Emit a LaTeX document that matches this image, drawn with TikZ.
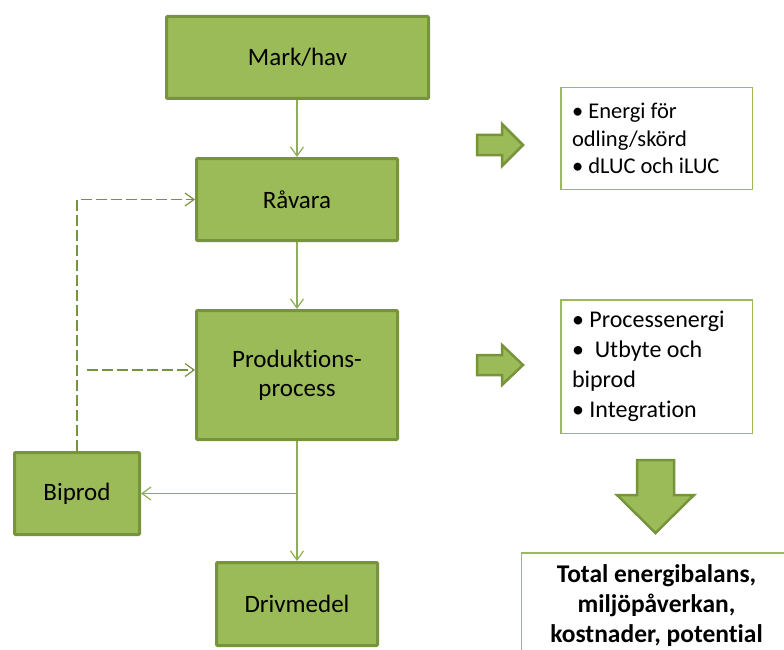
\documentclass[tikz,border=0pt]{standalone}
\usepackage{fontspec}
\setmainfont{Carlito}[Ligatures=NoCommon]
\usetikzlibrary{arrows.meta,calc}
\definecolor{gfill}{HTML}{9BBB59}
\definecolor{gline}{HTML}{77933C}
\definecolor{gconn}{HTML}{8FAF55}
\begin{document}
\begin{tikzpicture}[x=1pt,y=-1pt,
  gbox/.style={draw=gline, fill=gfill, line width=3pt, rounded corners=1pt, inner sep=0pt,
    align=center, font=\fontsize{25}{29}\selectfont},
  tbox/.style={draw=gfill, line width=1.5pt, fill=white, inner ysep=0pt},
  conn/.style={draw=gconn, line width=1.2pt, -{Straight Barb[length=9pt,width=13pt]}},
  dconn/.style={draw=gline, line width=1.2pt, dash pattern=on 11pt off 4pt,
    -{Straight Barb[length=9pt,width=13pt]}},
  barrow/.style={fill=gfill, draw=gline, line width=2.5pt, line join=miter}]
\clip (0,0) rectangle (784,650);

% main flow boxes
\node[gbox, minimum width=262pt, minimum height=82pt] (mark) at (297.5,57.5) {Mark/hav};
\node[gbox, minimum width=201pt, minimum height=82pt] (ravara) at (297,199.5) {Råvara};
\node[gbox, minimum width=201pt, minimum height=129pt] (prod) at (297,375) {Produktions-\\process};
\node[gbox, minimum width=125pt, minimum height=82pt] (biprod) at (77,493.5) {Biprod};
\node[gbox, minimum width=161pt, minimum height=83pt] (driv) at (297,604) {Drivmedel};

% connectors
\draw[conn] (mark.south -| ravara.north) -- (ravara.north);
\draw[conn] (ravara) -- (prod);
\draw[conn] (prod) -- (driv);
\coordinate (br) at (prod.south |- biprod.east);
\draw[conn] (br) -- (biprod.east);
\draw[dconn] (biprod.north) |- (ravara.west);
\coordinate (d2) at ($(biprod.north |- prod.west)+(10,-5)$);
\draw[dconn] (d2) -- ($(prod.west)+(0,-5)$);

% right side text boxes
\node[tbox, inner xsep=11.25pt, minimum height=101.5pt] (t1) at (656.5,138.5)
  {\parbox{169pt}{\raggedright\fontsize{22.5}{27.5}\selectfont
   • Energi för\\odling/skörd\\• dLUC och iLUC}};
\node[tbox, inner xsep=11.25pt, minimum height=133.5pt] (t2) at (656.5,366.5)
  {\parbox{169pt}{\raggedright\fontsize{24}{30}\selectfont
   • Processenergi\\•\ \ Utbyte och\\biprod\\• Integration}};
\node[tbox, anchor=north, inner xsep=0pt, inner ysep=12pt] (tot) at (656.5,552)
  {\parbox[t][110pt][t]{270pt}{\centering\bfseries\fontsize{25.5}{30}\selectfont
   Total energibalans,\\miljöpåverkan,\\kostnader, potential}};

% block arrows
\draw[barrow] (477,135) -- (502,135) -- (502,124) -- (523,145) -- (502,166) -- (502,155) -- (477,155) -- cycle;
\draw[barrow] (477,355) -- (502,355) -- (502,345) -- (523,365) -- (502,385) -- (502,375) -- (477,375) -- cycle;
\draw[barrow] (637,460) -- (674,460) -- (674,495) -- (694,495) -- (655.5,533) -- (617,495) -- (637,495) -- cycle;
\end{tikzpicture}
\end{document}
